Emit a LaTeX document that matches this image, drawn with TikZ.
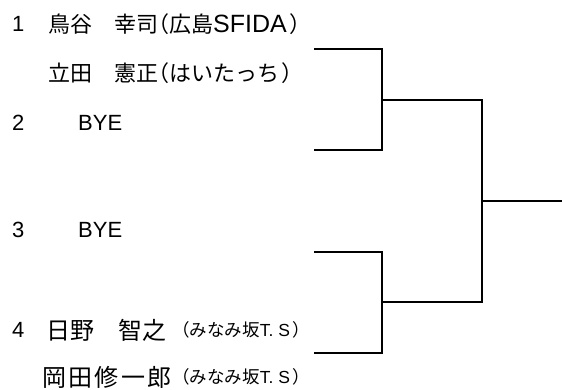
\documentclass[tikz,border=0pt]{standalone}
\usepackage{fontspec}
\setmainfont{Noto Sans CJK JP}
\newfontfamily\widejp[LetterSpace=10]{Noto Sans CJK JP}
\newfontfamily\latinfont{Liberation Sans}
\usetikzlibrary{positioning}
% narrow brackets round the club names
\newcommand\lp{\makebox[0.5em][r]{（}}
\newcommand\rp{\hspace{0.12em}\makebox[0.5em][l]{）}}
\tikzset{
  seed/.style   = {anchor=west, inner sep=0pt, font=\latinfont\fontsize{22}{26}\selectfont},
  player/.style = {anchor=west, inner sep=0pt, font=\fontsize{22}{26}\selectfont},
  club/.style   = {anchor=west, inner sep=0pt, font=\fontsize{17.5}{21}\selectfont},
  bracket/.style = {line width=2.8pt, line join=miter}
}

\begin{document}
\begin{tikzpicture}[x=1pt,y=-1pt]
\useasboundingbox (0,0) rectangle (562,390);

% seed numbers
    \node[seed] (n1) at (12,24) {1};
    \node[seed] (n2) at (12,123) {2};
    \node[seed] (n3) at (12,230) {3};
    \node[seed] (n4) at (12,330) {4};

% players, one or two lines per slot
    \node[player] (p1a) at (48,24) {鳥谷　幸司\lp 広島{\latinfont\fontsize{25}{28}\selectfont SFIDA}\rp};
    \node[player] (p1b) at (48,73) {立田　憲正\lp はいたっち\rp};
    \node[seed] (p2) at (78,123) {BYE};
    \node[seed] (p3) at (78,230) {BYE};
    \node[player, font=\fontsize{24}{28}\selectfont] (p4a) at (46,330) {日野　智之};
    \node[club] (c4a) at (181,330) {\lp みなみ坂{\latinfont T. S}\rp};
    \node[player, font=\fontsize{24}{28}\widejp] (p4b) at (42,377) {岡田修一郎};
    \node[club] (c4b) at (181,377) {\lp みなみ坂{\latinfont T. S}\rp};

% slot ends and joins of the bracket
    \coordinate (s1) at (314,49);
    \coordinate (s2) at (314,150);
    \coordinate (s3) at (314,252);
    \coordinate (s4) at (314,353);
    \coordinate (j1) at (382,100);
    \coordinate (j2) at (382,302);
    \coordinate (f) at (482,201);
    \coordinate (win) at (562,201);

% first round
    \draw[bracket] (s1) -| (j1) |- (s2);
    \draw[bracket] (s3) -| (j2) |- (s4);
% final
    \draw[bracket] (j1) -| (f) |- (j2);
    \draw[bracket] (f) -- (win);
  \end{tikzpicture}
\end{document}
